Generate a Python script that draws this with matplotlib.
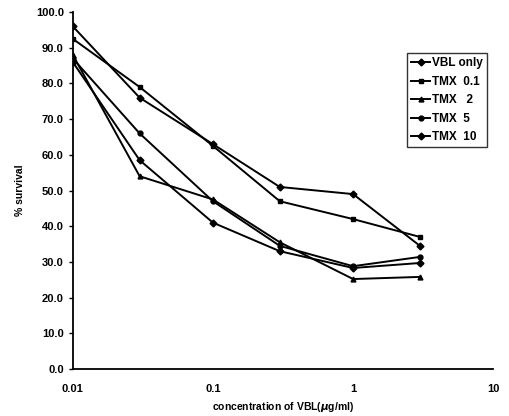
import matplotlib
matplotlib.use('Agg')
import matplotlib.pyplot as plt

plt.rcParams['font.family'] = ['Liberation Sans', 'DejaVu Sans']
plt.rcParams['font.weight'] = 'bold'

conc = [0.01, 0.03, 0.1, 0.3, 1, 3]
vbl_only = [96.0, 76.0, 63.0, 51.0, 49.0, 34.5]
tmx_01 = [92.5, 79.0, 62.5, 47.0, 42.0, 37.0]
tmx_2 = [88.0, 54.0, 47.5, 35.5, 25.2, 25.8]
tmx_5 = [87.0, 66.0, 47.0, 34.5, 28.8, 31.4]
tmx_10 = [86.0, 58.5, 41.0, 33.0, 28.3, 29.7]

labels = ['VBL only', 'TMX  0.1', 'TMX   2', 'TMX  5', 'TMX  10']
markers = ['D', 's', '^', 'o', 'D']
series = [vbl_only, tmx_01, tmx_2, tmx_5, tmx_10]

fig = plt.figure(figsize=(5.09, 4.16), dpi=100)
ax = fig.add_axes([0.143, 0.113, 0.826, 0.858])

for vals, lab, mk in zip(series, labels, markers):
    ax.plot(conc, vals, color='black', linewidth=1.4, marker=mk,
            markersize=3.5, label=lab)

ax.set_xscale('log')
ax.set_xlim(0.01, 10)
ax.set_ylim(0, 100)
ax.set_xticks([0.01, 0.1, 1, 10])
ax.set_xticklabels(['0.01', '0.1', '1', '10'])
ax.minorticks_off()
ax.set_yticks(range(0, 101, 10))
ax.set_yticklabels([f'{v:.1f}' for v in range(0, 101, 10)])
ax.tick_params(axis='both', labelsize=8, length=3, width=1)
ax.tick_params(axis='x', length=0, pad=11)

for s in ['top', 'right']:
    ax.spines[s].set_visible(False)
for s in ['left', 'bottom']:
    ax.spines[s].set_linewidth(1.3)

ax.set_xlabel('concentration of VBL($\\mu$g/ml)', fontsize=7.5, fontweight='bold', labelpad=4)
ax.set_ylabel('% survival', fontsize=7.5, fontweight='bold', labelpad=8)

leg = ax.legend(loc='upper right', bbox_to_anchor=(0.986, 0.885), fontsize=8.5,
                frameon=True, fancybox=False, handlelength=1.6, handletextpad=0.2,
                borderpad=0.35, labelspacing=0.55, borderaxespad=0)
leg.get_frame().set_edgecolor('black')
leg.get_frame().set_linewidth(1.0)

fig.savefig('out.png', dpi=100)
